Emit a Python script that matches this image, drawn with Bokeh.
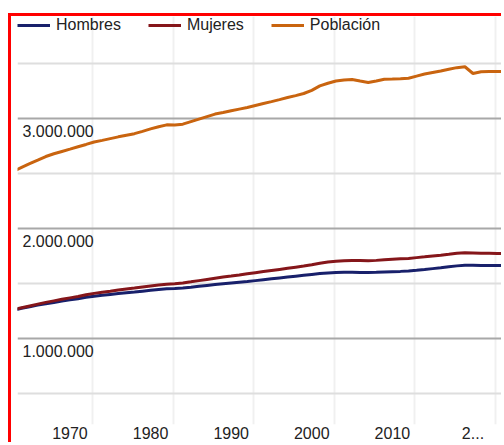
from bokeh.plotting import figure
from bokeh.models import FixedTicker, Legend, LegendItem, Range1d, ColumnDataSource
from bokeh.core.properties import value
from bokeh.embed import file_html
from bokeh.resources import INLINE

# ---------------- data ----------------
years = list(range(1963, 2025))

poblacion = [
    2520000, 2556000, 2589000, 2621000, 2654000, 2679000, 2700000, 2721000,
    2743000, 2764000, 2786000, 2801000, 2817000, 2833000, 2848000, 2862000,
    2883000, 2905000, 2925000, 2942000, 2940000, 2948000, 2971000, 2994000,
    3017000, 3040000, 3054000, 3070000, 3085000, 3100000, 3118000, 3136000,
    3153000, 3171000, 3190000, 3208000, 3227000, 3256000, 3296000, 3320000,
    3340000, 3350000, 3354000, 3340000, 3327000, 3340000, 3356000, 3358000,
    3361000, 3366000, 3385000, 3404000, 3418000, 3432000, 3447000, 3462000,
    3470000, 3409000, 3425000, 3428000, 3428000, 3428000,
]

mujeres = [
    1262000, 1280000, 1296000, 1312000, 1328000, 1342000, 1356000, 1369000,
    1382000, 1397000, 1410000, 1421000, 1430000, 1440000, 1449000, 1458000,
    1468000, 1478000, 1487000, 1494000, 1498000, 1505000, 1515000, 1526000,
    1537000, 1548000, 1558000, 1567000, 1577000, 1588000, 1598000, 1608000,
    1618000, 1628000, 1638000, 1648000, 1658000, 1670000, 1684000, 1695000,
    1702000, 1707000, 1709000, 1708000, 1707000, 1710000, 1716000, 1720000,
    1724000, 1728000, 1735000, 1742000, 1750000, 1757000, 1765000, 1774000,
    1780000, 1778000, 1775000, 1774000, 1773000, 1773000,
]

hombres = [
    1258000, 1274000, 1289000, 1303000, 1316000, 1328000, 1340000, 1351000,
    1362000, 1374000, 1384000, 1392000, 1400000, 1408000, 1415000, 1422000,
    1430000, 1438000, 1445000, 1451000, 1454000, 1459000, 1466000, 1474000,
    1482000, 1490000, 1497000, 1504000, 1511000, 1518000, 1526000, 1534000,
    1542000, 1550000, 1558000, 1566000, 1574000, 1582000, 1590000, 1596000,
    1600000, 1601000, 1601000, 1600000, 1600000, 1601000, 1604000, 1607000,
    1610000, 1614000, 1620000, 1627000, 1635000, 1643000, 1652000, 1660000,
    1666000, 1665000, 1664000, 1664000, 1664000, 1664000,
]

series_names = ["Hombres", "Mujeres", "Población"]

x_ticks = [1970, 1980, 1990, 2000, 2010, 2020]
x_tick_labels = ["1970", "1980", "1990", "2000", "2010", "2..."]

y_ticks = [1000000, 2000000, 3000000]
y_tick_labels = ["1.000.000", "2.000.000", "3.000.000"]
y_minor_ticks = [500000, 1500000, 2500000, 3500000]

# ---------------- styling / layout ----------------
FONT = "Liberation Sans"
TEXT_COLOR = "#222222"
COLORS = {"Hombres": "#18206b", "Mujeres": "#85161a", "Población": "#c9640f"}
X_START, X_END = 1963.49, 2023.91
Y_START, Y_END = 218000, 3927000
GRID_SHIFT = 2.8

src = ColumnDataSource(data=dict(year=years, hombres=hombres, mujeres=mujeres, poblacion=poblacion))

p = figure(
    width=493, height=429,
    output_backend="svg", toolbar_location=None,
    x_range=Range1d(X_START, X_END), y_range=Range1d(Y_START, Y_END),
    min_border_left=6, min_border_right=0, min_border_top=0, min_border_bottom=21,
)
p.margin = (13, 0, 0, 8)
p.styles = {"border-left": "3px solid red", "border-top": "3px solid red",
            "border-right": "none", "border-bottom": "none"}
p.outline_line_color = None
p.background_fill_color = "white"
p.border_fill_color = "white"

# x axis
p.xaxis.ticker = FixedTicker(ticks=x_ticks)
p.xaxis.major_label_overrides = {t: lab for t, lab in zip(x_ticks, x_tick_labels)}
p.xaxis.axis_line_color = None
p.xaxis.major_tick_line_color = None
p.xaxis.minor_tick_line_color = None
p.xaxis.major_tick_out = 0
p.xaxis.major_tick_in = 0
p.xaxis.minor_tick_out = 0
p.xaxis.major_label_standoff = 2
p.xaxis.major_label_text_font = FONT
p.xaxis.major_label_text_font_size = "16px"
p.xaxis.major_label_text_color = TEXT_COLOR

# y axis hidden, labels drawn inside the plot
p.yaxis.visible = False

# grids
p.xgrid.ticker = FixedTicker(ticks=[t + GRID_SHIFT for t in x_ticks])
p.xgrid.grid_line_color = "#f0f0f0"
p.xgrid.grid_line_width = 2

p.ygrid.ticker = FixedTicker(ticks=y_ticks, minor_ticks=y_minor_ticks)
p.ygrid.grid_line_color = "#a8a8a8"
p.ygrid.grid_line_width = 2
p.ygrid.minor_grid_line_color = "#dedede"
p.ygrid.minor_grid_line_width = 2

# lines
r_h = p.line("year", "hombres", source=src, line_color=COLORS["Hombres"], line_width=3)
r_m = p.line("year", "mujeres", source=src, line_color=COLORS["Mujeres"], line_width=3)
r_p = p.line("year", "poblacion", source=src, line_color=COLORS["Población"], line_width=3)

# y tick labels inside the plot area
p.text(x=[X_START] * len(y_ticks), y=y_ticks, text=y_tick_labels,
       x_offset=5, y_offset=7,
       text_font=value(FONT), text_font_size="16px", text_color=TEXT_COLOR,
       text_align="left", text_baseline="top")

legend = Legend(
    items=[LegendItem(label=n, renderers=[r]) for n, r in zip(series_names, [r_h, r_m, r_p])],
    orientation="horizontal", location="top_left",
    margin=0, padding=0, spacing=27,
    glyph_width=33, glyph_height=18, label_standoff=6, label_height=18,
    label_text_font=FONT, label_text_font_size="16px", label_text_color=TEXT_COLOR,
    border_line_color=None, background_fill_alpha=0,
)
p.add_layout(legend)

open("out.html", "w").write(file_html(p, INLINE))
